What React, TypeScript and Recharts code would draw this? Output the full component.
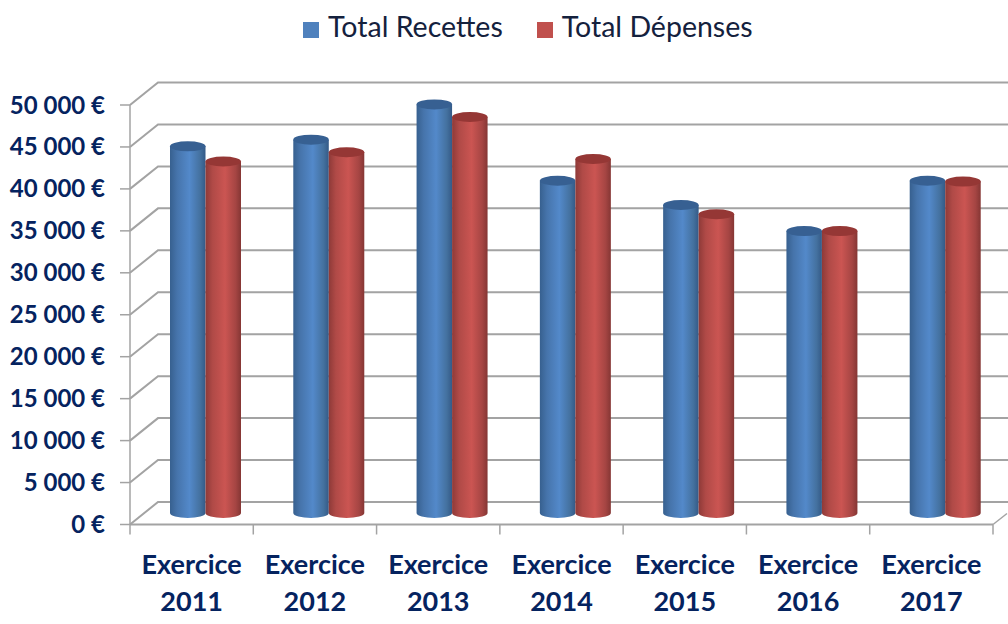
import { Bar, BarChart, CartesianGrid, Legend, XAxis, YAxis } from "recharts";

const YEARS = ["2011", "2012", "2013", "2014", "2015", "2016", "2017"];
const RECETTES = [43700, 44500, 48700, 39600, 36700, 33600, 39600];
const DEPENSES = [41900, 43000, 47200, 42200, 35600, 33600, 39500];
const Y_TICKS = [0, 5000, 10000, 15000, 20000, 25000, 30000, 35000, 40000, 45000, 50000];

const rows = YEARS.map((year, i) => ({
  year,
  recettes: RECETTES[i],
  depenses: DEPENSES[i]
}));

const AXIS_GREY = "#a3a3a3";
const LABEL_BLUE = "#05235f";
const FONT = "Lato, sans-serif";
const BAND = 863 / 7;

function formatEuro(value: number) {
  return `${String(value).replace(/\B(?=(\d{3})+$)/g, " ")} €`;
}

// grid line on the front edge, going back along the side wall then across the back wall
function WallLine({ x1, x2, y1 }: any) {
  return (
    <path
      d={`M${x1},${y1} L${x1 + 28},${y1 - 22.5} L${x2 + 30},${y1 - 22.5}`}
      fill="none"
      stroke={AXIS_GREY}
      strokeWidth={2}
    />
  );
}

function YearTick({ x, y, payload, index }: any) {
  const left = x - BAND / 2;
  return (
    <g>
      <line x1={left} x2={left} y1={y} y2={y + 10} stroke={AXIS_GREY} strokeWidth={1.5} />
      {index === YEARS.length - 1 && (
        <>
          <line x1={left + BAND} x2={left + BAND} y1={y} y2={y + 10} stroke={AXIS_GREY} strokeWidth={1.5} />
          <line x1={left + BAND} x2={left + BAND + 14} y1={y} y2={y - 11} stroke={AXIS_GREY} strokeWidth={1.5} />
        </>
      )}
      <text x={x} y={y + 49} textAnchor="middle" fontFamily={FONT} fontWeight={700} fontSize={27} fill={LABEL_BLUE}>
        Exercice
      </text>
      <text x={x} y={y + 86} textAnchor="middle" fontFamily={FONT} fontWeight={700} fontSize={27} fill={LABEL_BLUE}>
        {payload.value}
      </text>
    </g>
  );
}

function Cylinder({ x, y, width, height, gradient, top }: any) {
  const rx = width / 2;
  const ry = 5;
  const left = x + 14;
  const right = left + width;
  const cy = y - 11.5;
  const base = cy + height;
  return (
    <g>
      <path
        d={`M${left},${cy} L${left},${base} A${rx},${ry} 0 0 0 ${right},${base} L${right},${cy} Z`}
        fill={`url(#${gradient})`}
      />
      <ellipse cx={left + rx} cy={cy} rx={rx} ry={ry} fill={top} />
    </g>
  );
}

export default function App() {
  return (
    <div style={{ position: "absolute", left: 0, top: 0, width: 1008, height: 624, background: "#fff", overflow: "hidden" }}>
      <BarChart
        width={1008}
        height={624}
        data={rows}
        margin={{ top: 105, right: 15, bottom: 0, left: 0 }}
        barSize={35.5}
        barGap={0}
      >
        <defs>
          <linearGradient id="cylBlue" x1="0" x2="1" y1="0" y2="0">
            <stop offset="0" stopColor="#37608f" />
            <stop offset="0.2" stopColor="#4674ab" />
            <stop offset="0.55" stopColor="#5389ca" />
            <stop offset="0.85" stopColor="#44719f" />
            <stop offset="1" stopColor="#345a87" />
          </linearGradient>
          <linearGradient id="cylRed" x1="0" x2="1" y1="0" y2="0">
            <stop offset="0" stopColor="#8e3a38" />
            <stop offset="0.2" stopColor="#b04a47" />
            <stop offset="0.55" stopColor="#cb5552" />
            <stop offset="0.85" stopColor="#a54543" />
            <stop offset="1" stopColor="#853634" />
          </linearGradient>
        </defs>
        <CartesianGrid horizontal={(props: any) => <WallLine key={props.key} {...props} />} vertical={false} />
        <XAxis
          dataKey="year"
          height={99.5}
          interval={0}
          tickLine={false}
          tickSize={0}
          tickMargin={0}
          axisLine={{ stroke: AXIS_GREY, strokeWidth: 2 }}
          tick={<YearTick />}
        />
        <YAxis
          width={130}
          domain={[0, 50000]}
          ticks={Y_TICKS}
          interval={0}
          tickSize={10}
          tickMargin={15}
          tickFormatter={formatEuro}
          axisLine={{ stroke: AXIS_GREY, strokeWidth: 1.5 }}
          tickLine={{ stroke: AXIS_GREY, strokeWidth: 1.5 }}
          tick={{ fontFamily: FONT, fontWeight: 700, fontSize: 24, fill: LABEL_BLUE }}
        />
        <Legend
          verticalAlign="middle"
          align="center"
          iconType="square"
          iconSize={16}
          itemSorter={null}
          wrapperStyle={{ top: 9, left: 303, width: "auto", height: "auto", fontFamily: FONT, fontSize: 28.5 }}
          formatter={(value: string) => <span style={{ color: "#14213d", marginLeft: 5, marginRight: 24 }}>{value}</span>}
        />
        <Bar
          dataKey="recettes"
          name="Total Recettes"
          fill="#4f81bd"
          isAnimationActive={false}
          shape={(props: any) => <Cylinder {...props} gradient="cylBlue" top="#376092" />}
        />
        <Bar
          dataKey="depenses"
          name="Total Dépenses"
          fill="#c0504d"
          isAnimationActive={false}
          shape={(props: any) => <Cylinder {...props} gradient="cylRed" top="#953735" />}
        />
      </BarChart>
    </div>
  );
}
